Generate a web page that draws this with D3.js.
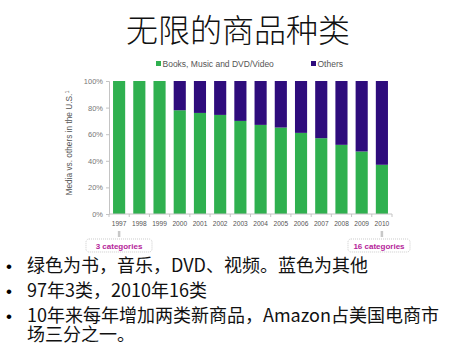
<!DOCTYPE html>
<html>
<head>
<meta charset="utf-8">
<script src="https://cdn.jsdelivr.net/npm/d3@7"></script>
<style>
  body { margin: 0; background: #fff; }
  svg { display: block; }
</style>
</head>
<body>
<div id="chart"></div>
<script>
// chart data
var years = ["1997","1998","1999","2000","2001","2002","2003","2004","2005","2006","2007","2008","2009","2010"]
var media = [1.00, 1.00, 1.00, 0.78, 0.76, 0.745, 0.70, 0.67, 0.65, 0.61, 0.57, 0.52, 0.47, 0.37]
var seriesNames = ["Books, Music and DVD/Video", "Others"]
var yTicks = [0, 0.2, 0.4, 0.6, 0.8, 1]
var callouts = [["1997", "3 categories"], ["2010", "16 categories"]]
var titleText = "无限的商品种类"
var bullets = [
  ["绿色为书，音乐，DVD、视频。蓝色为其他"],
  ["97年3类，2010年16类"],
  ["10年来每年增加两类新商品，Amazon占美国电商市", "场三分之一。"]
]

var width = 474, height = 354
var green = "#2fb04f", purple = "#2e0c7c"
var chartFont = "'Liberation Sans', Arial, sans-serif"
var cjkFont = "'Noto Sans CJK SC', sans-serif"

var svg = d3.select("#chart").append("svg")
  .attr("width", width)
  .attr("height", height)

// title
svg.append("text")
  .attr("x", 238)
  .attr("y", 42)
  .attr("text-anchor", "middle")
  .style("font-family", cjkFont)
  .style("font-size", "32px")
  .style("font-weight", 300)
  .attr("fill", "#111")
  .text(titleText)

var x = d3.scaleBand()
  .domain(years)
  .range([109, 392])
  .paddingInner(0.4)
  .paddingOuter(0.2)

var y = d3.scaleLinear()
  .domain([0, 1])
  .range([214, 81])

var stackData = years.map((yr, i) => ({year: yr, media: media[i], others: 1 - media[i]}))
var stack = d3.stack().keys(["media", "others"])(stackData)
var colors = [green, purple]

svg.append("g")
  .selectAll("g")
  .data(stack)
  .enter()
  .append("g")
    .attr("fill", (d, i) => colors[i])
  .selectAll("rect")
  .data(d => d)
  .enter()
  .append("rect")
    .attr("x", d => x(d.data.year))
    .attr("y", d => y(d[1]))
    .attr("width", x.bandwidth())
    .attr("height", d => y(d[0]) - y(d[1]))

// y axis
var yAxis = svg.append("g")
  .attr("transform", "translate(109,0)")
  .call(d3.axisLeft(y).tickValues(yTicks).tickSize(3).tickFormat(d3.format(".0%")))
yAxis.selectAll("path, line").attr("stroke", "#c4c4c4")
yAxis.selectAll("text")
  .attr("fill", "#777")
  .style("font-family", chartFont)
  .style("font-size", "7.5px")
  .attr("x", -6)

// x axis: ticks sit between bars
var gap = (x.step() - x.bandwidth()) / 2
var xAxis = svg.append("g")
  .attr("transform", "translate(0," + y(0) + ")")
xAxis.append("line")
  .attr("x1", x.range()[0])
  .attr("x2", x.range()[1])
  .attr("stroke", "#c4c4c4")
xAxis.selectAll(".tk")
  .data(years.concat(["end"]))
  .enter()
  .append("line")
    .attr("x1", d => d == "end" ? x.range()[1] : x(d) - gap)
    .attr("x2", d => d == "end" ? x.range()[1] : x(d) - gap)
    .attr("y1", 0)
    .attr("y2", 3)
    .attr("stroke", "#c4c4c4")
xAxis.selectAll(".lbl")
  .data(years)
  .enter()
  .append("text")
    .attr("x", d => x(d) + x.bandwidth() / 2)
    .attr("y", 12)
    .attr("text-anchor", "middle")
    .attr("fill", "#555")
    .style("font-family", chartFont)
    .style("font-size", "6.6px")
    .text(d => d)

// y title
svg.append("text")
  .attr("transform", "translate(72,143) rotate(-90)")
  .attr("text-anchor", "middle")
  .attr("fill", "#555")
  .style("font-family", chartFont)
  .style("font-size", "8.3px")
  .text("Media vs. others in the U.S.")
  .append("tspan")
    .attr("dy", -3)
    .style("font-size", "5.5px")
    .text("1")

// legend
var legendX = [156, 311]
seriesNames.forEach((name, i) => {
  svg.append("rect")
    .attr("x", legendX[i])
    .attr("y", 61)
    .attr("width", 5)
    .attr("height", 5)
    .attr("fill", colors[i])
  svg.append("text")
    .attr("x", legendX[i] + 6.5)
    .attr("y", 66.5)
    .attr("fill", "#555")
    .style("font-family", chartFont)
    .style("font-size", "8.5px")
    .text(name)
})

// callouts under first and last year
callouts.forEach(c => {
  var cx = x(c[0]) + x.bandwidth() / 2
  var bw = c[0] == "1997" ? 66 : 62
  var bx = c[0] == "1997" ? 86 : 348
  svg.append("line")
    .attr("x1", cx).attr("x2", cx)
    .attr("y1", 231).attr("y2", 237)
    .attr("stroke", "#c8c8c8")
    .attr("stroke-width", 2.5)
  svg.append("rect")
    .attr("x", bx)
    .attr("y", 239)
    .attr("width", bw)
    .attr("height", 13)
    .attr("rx", 3)
    .attr("fill", "#fff")
    .attr("stroke", "#aaa")
    .attr("stroke-width", 0.6)
    .attr("stroke-dasharray", "1,1")
  svg.append("text")
    .attr("x", bx + bw / 2)
    .attr("y", 248.5)
    .attr("text-anchor", "middle")
    .attr("fill", "#b5249a")
    .style("font-family", chartFont)
    .style("font-size", "8px")
    .style("font-weight", "bold")
    .text(c[1])
})

// bullet text, wrapped lines kept in one text element
var lineY = 272
bullets.forEach((b, i) => {
  svg.append("text")
    .attr("x", 6)
    .attr("y", lineY)
    .style("font-family", chartFont)
    .style("font-size", "17px")
    .text("•")
  var t = svg.append("text")
    .attr("y", lineY)
    .attr("fill", "#111")
    .style("font-family", cjkFont)
    .style("font-size", "18px")
  b.forEach((line, j) => {
    t.append("tspan")
      .attr("x", 27)
      .attr("dy", j == 0 ? 0 : 19)
      .text(line)
  })
  lineY += 25 + (b.length - 1) * 19
})
</script>
</body>
</html>
